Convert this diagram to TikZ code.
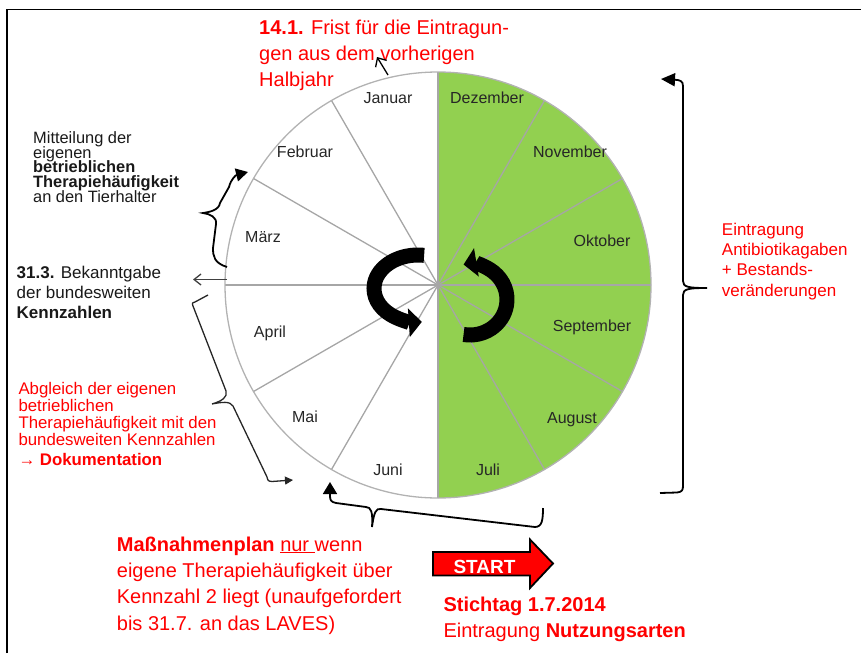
\documentclass[tikz,border=0pt]{standalone}
\usepackage{fontspec}
\setmainfont{Liberation Sans}
\usetikzlibrary{arrows.meta}
\definecolor{mgreen}{HTML}{92D050}
\definecolor{mred}{HTML}{FF0000}
\definecolor{sepgray}{HTML}{A6A6A6}
\setlength{\lineskiplimit}{-100pt}
\begin{document}
\begin{tikzpicture}[x=1pt,y=-1pt,
  month/.style={font=\fontsize{16}{18}\selectfont, text=black!85, inner sep=0, anchor=base},
  redtxt/.style={text=mred, inner sep=0, anchor=north west, align=left},
  blktxt/.style={text=black!90, inner sep=0, anchor=north west, align=left},
  sepline/.style={draw=sepgray, line width=1.3},
  bigarrow/.style={line width=15, -{Triangle[length=13pt,width=28pt]}},
  bracepath/.style={draw=black, line width=1.8},
  thinarrow/.style={line width=1.3}
  ]
\useasboundingbox (0,0) rectangle (861,653);
% frame
\draw[line width=1.6] (7,653) -- (7,9.5) -- (861,9.5);
% wheel
\coordinate (C) at (438,285);
\fill[mgreen] (C) -- ++(0,-213) arc[start angle=-90,end angle=90,radius=213] -- cycle;
\foreach \a in {0,30,...,330} \draw[sepline] (C) -- ++(\a:213);
\draw[draw=black!30, line width=1.3] (C) circle[radius=213];
% months
\node[month] (jan) at (388,103.5) {Januar};
\node[month] (dez) at (487,103.5) {Dezember};
\node[month] (nov) at (570,157.5) {November};
\node[month] (okt) at (602,246.5) {Oktober};
\node[month] (sep) at (592,331.5) {September};
\node[month] (aug) at (572,423.5) {August};
\node[month] (jul) at (488,475.5) {Juli};
\node[month] (jun) at (388,475.5) {Juni};
\node[month] (mai) at (305,422.5) {Mai};
\node[month] (apr) at (270,337.5) {April};
\node[month] (mar) at (263,242.5) {März};
\node[month] (feb) at (305,157.5) {Februar};
% central cycle arrows
\draw[bigarrow] (418,288.5) ++(-82:44 and 33.5) arc[start angle=-82,end angle=-275,x radius=44,y radius=33.5];
\draw[bigarrow] (470,299.5) ++(100:37 and 35.5) arc[start angle=100,end angle=-100,x radius=37,y radius=35.5];
% texts
\node[redtxt, font=\fontsize{20}{26}\selectfont] (frist) at (259,19.4)
  {\textbf{14.1.} Frist für die Eintragun-\\gen aus dem vorherigen\\Halbjahr};
\node[blktxt, font=\fontsize{16.4}{14.8}\selectfont] (mitt) at (33,131.3)
  {Mitteilung der\\eigenen\\\textbf{betrieblichen}\\\textbf{Therapiehäufigkeit}\\an den Tierhalter};
\node[blktxt, font=\fontsize{17}{20}\selectfont] (bek) at (16.5,265.6)
  {\textbf{31.3.} Bekanntgabe\\der bundesweiten\\\textbf{Kennzahlen}};
\node[redtxt, font=\fontsize{16.8}{16.7}\selectfont] (abgl) at (18.3,382.6)
  {Abgleich der eigenen\\betrieblichen\\Therapiehäufigkeit mit den\\bundesweiten Kennzahlen\\[3.3pt]→ \textbf{Dokumentation}};
\node[redtxt, font=\fontsize{17}{20.3}\selectfont] (eintr) at (721.7,222.6)
  {Eintragung\\Antibiotikagaben\\+ Bestands-\\veränderungen};
\node[redtxt, font=\fontsize{20}{26.4}\selectfont] (mass) at (116.7,536.4)
  {\textbf{Maßnahmenplan} \underline{nur }wenn\\eigene Therapiehäufigkeit über\\Kennzahl 2 liegt (unaufgefordert\\bis 31.7. an das LAVES)};
\node[redtxt, font=\fontsize{20}{26}\selectfont] (stich) at (443.3,597.1)
  {\textbf{Stichtag 1.7.2014}\\Eintragung \textbf{Nutzungsarten}};
% START arrow
\draw[fill=mred, draw=black, line width=1.8, line join=miter]
  (433,552) -- (530,552) -- (530,539.5) -- (553,563.5) -- (530,588) -- (530,575.5) -- (433,575.5) -- cycle;
\node[inner sep=0, anchor=base, text=white, font=\fontsize{19}{20}\selectfont\bfseries] (start) at (484.5,573) {START};
% small arrows
\coordinate (topA) at (388,75);
\coordinate (topB) at (377,57);
\draw[thinarrow, -{Straight Barb[length=7pt,width=13pt]}] (topA) -- (topB);
\coordinate (leftA) at (227,279.5);
\coordinate (leftB) at (193,279.5);
\draw[thinarrow, draw=black!75, -{Straight Barb[length=7pt,width=11pt]}] (leftA) -- (leftB);
% upper-left brace
\draw[bracepath, -{Triangle[length=12pt,width=13pt]}]
  (227,267) .. controls (214,263) and (213,256) .. (213,248) -- (216,224)
  .. controls (217,217) and (210,214) .. (203,213)
  .. controls (210,212) and (219,210) .. (220,203) -- (229,187)
  .. controls (231,179) and (236,175) .. (248,172);
% lower-left brace
\draw[draw=black!85, line width=1.3, -{Triangle[length=8pt,width=8pt]}]
  (208,295) -- (195,302) .. controls (192,303) .. (193,306) -- (226,391)
  .. controls (228,397) and (222,401) .. (212,404)
  .. controls (222,402) and (230,401) .. (233,406) -- (267,477)
  .. controls (268,481) .. (272,481.5) -- (293,480);
% right brace
\draw[bracepath, -{Triangle[length=14pt,width=13pt]}]
  (660,493) -- (677,492.5) .. controls (682,492) and (683,490) .. (683,486) -- (683,295)
  .. controls (683,289) and (688,288) .. (707,288)
  .. controls (688,288) and (683,287) .. (683,281) -- (683,86)
  .. controls (683,81) and (680,80) .. (661,79);
% bottom brace
\draw[bracepath, -{Triangle[length=12pt,width=14pt]}]
  (543,508) .. controls (543,520) and (542,527) .. (535,527) -- (381,509)
  .. controls (376,508) and (374,512) .. (372,527)
  .. controls (373,512) and (371,507) .. (366,507) -- (336,503)
  .. controls (331,502) and (330,500) .. (330,496) -- (330,482);
\end{tikzpicture}
\end{document}
